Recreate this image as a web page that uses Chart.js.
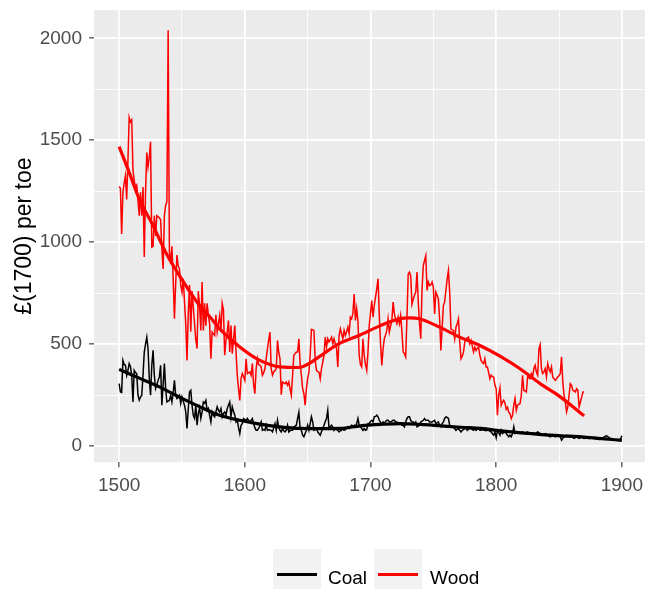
<!DOCTYPE html>
<html lang="en">
<head>
    <meta charset="UTF-8">
    <title>Coal and wood prices</title>
    <style>
        body {
            margin: 0;
            padding: 0;
            background: #fff;
            overflow: hidden;
            font-family: "Liberation Sans", Arial, sans-serif;
        }
        #wrap {
            position: relative;
            width: 647px;
            height: 592px;
        }
        #legend {
            position: absolute;
            left: 273px;
            top: 549px;
            display: flex;
            align-items: flex-start;
        }
        .key {
            width: 48px;
            height: 40px;
            background: #F2F2F2;
            position: relative;
        }
        .key span {
            position: absolute;
            left: 4px;
            width: 40px;
            top: 24px;
            height: 3px;
        }
        .label {
            font-size: 19px;
            line-height: 19px;
            color: #000;
            margin: 19px 7px 0 7px;
        }
    </style>
    <script src="https://cdn.jsdelivr.net/npm/chart.js@4"></script>
</head>
<body>
    <div id="wrap">
        <canvas id="chart" width="647" height="592"></canvas>
        <div id="legend">
            <div class="key"><span style="background:#000000"></span></div>
            <div class="label">Coal</div>
            <div class="key"><span style="background:#FF0000"></span></div>
            <div class="label" style="margin-left:8px">Wood</div>
        </div>
    </div>
    <script>
        // annual series, first year 1500
        const firstYear = 1500;

        const coalPrices = [
            306, 265, 263, 420, 400, 396, 347, 371, 404, 390,
            347, 216, 371, 360, 355, 249, 225, 240, 249, 347,
            461, 500, 534, 477, 331, 249, 396, 469, 347, 282,
            300, 322, 339, 396, 200, 300, 404, 282, 216, 220,
            224, 249, 216, 260, 322, 249, 233, 240, 249, 208,
            241, 220, 200, 167, 86, 180, 265, 273, 200, 150,
            135, 200, 102, 160, 187, 135, 167, 216, 210, 224,
            175, 184, 150, 118, 167, 150, 143, 167, 192, 175,
            167, 184, 143, 160, 167, 151, 184, 200, 216, 143,
            192, 170, 151, 118, 126, 90, 61, 102, 110, 135,
            130, 126, 135, 125, 118, 126, 135, 110, 90, 77,
            77, 86, 100, 118, 77, 80, 77, 102, 77, 80,
            77, 77, 69, 90, 110, 77, 126, 90, 77, 69,
            86, 75, 69, 77, 102, 69, 75, 77, 77, 94,
            98, 102, 135, 166, 86, 77, 53, 45, 61, 77,
            102, 77, 110, 143, 118, 77, 80, 86, 69, 61,
            53, 70, 86, 102, 120, 135, 175, 86, 95, 102,
            94, 77, 86, 80, 77, 69, 75, 77, 86, 77,
            80, 86, 94, 86, 95, 102, 94, 102, 94, 110,
            135, 102, 94, 86, 77, 86, 77, 80, 110, 110,
            120, 126, 118, 143, 145, 151, 143, 126, 115, 110,
            118, 110, 120, 126, 126, 118, 118, 122, 126, 126,
            118, 118, 115, 110, 110, 102, 102, 94, 118, 135,
            143, 143, 126, 118, 118, 110, 118, 94, 98, 102,
            118, 122, 126, 135, 126, 126, 126, 118, 118, 118,
            122, 126, 110, 114, 118, 102, 94, 110, 118, 135,
            143, 140, 135, 102, 94, 94, 90, 86, 77, 82,
            86, 77, 69, 77, 80, 86, 86, 77, 82, 86,
            86, 80, 77, 86, 77, 82, 86, 77, 77, 80,
            77, 77, 75, 77, 77, 72, 69, 60, 53, 69,
            40, 77, 65, 53, 77, 61, 65, 69, 61, 53,
            45, 53, 45, 61, 94, 61, 65, 69, 64, 61,
            66, 69, 64, 61, 65, 69, 64, 61, 63, 65,
            62, 61, 64, 69, 65, 61, 57, 53, 57, 61,
            57, 53, 49, 45, 49, 53, 49, 45, 49, 53,
            49, 45, 29, 38, 45, 49, 53, 49, 45, 45,
            45, 41, 37, 41, 45, 41, 37, 41, 45, 41,
            37, 38, 40, 38, 37, 38, 40, 38, 37, 36,
            35, 33, 32, 33, 35, 40, 45, 48, 50, 45,
            40, 38, 35, 32, 30, 31, 32, 30, 28, 35,
            50
        ];

        const woodPrices = [
            1273, 1265, 1040, 1245, 1290, 1325, 1210, 1400, 1612, 1590,
            1600, 1357, 1300, 1270, 1280, 1205, 1130, 1245, 1130, 1270,
            927, 1245, 1440, 1370, 1420, 1492, 976, 980, 1130, 1030,
            1130, 1125, 1120, 1110, 965, 868, 1130, 1180, 1198, 2040,
            952, 895, 980, 820, 624, 800, 937, 880, 870, 790,
            755, 820, 708, 600, 420, 650, 790, 561, 760, 680,
            600, 520, 478, 760, 690, 567, 804, 567, 700, 590,
            700, 640, 600, 428, 559, 550, 542, 644, 559, 600,
            640, 559, 700, 668, 445, 520, 559, 616, 461, 591,
            453, 520, 591, 461, 347, 280, 224, 330, 355, 340,
            322, 428, 355, 360, 363, 347, 404, 300, 257, 379,
            428, 400, 396, 388, 347, 360, 379, 428, 477, 520,
            559, 379, 347, 363, 370, 379, 518, 460, 428, 252,
            314, 310, 306, 314, 298, 314, 280, 249, 347, 445,
            453, 461, 461, 526, 404, 347, 281, 257, 200, 281,
            330, 363, 445, 572, 570, 567, 420, 371, 365, 363,
            330, 380, 412, 445, 534, 485, 526, 510, 520, 534,
            502, 526, 500, 477, 388, 542, 575, 550, 526, 567,
            542, 560, 583, 551, 632, 624, 650, 746, 616, 673,
            616, 445, 400, 388, 526, 445, 400, 371, 461, 591,
            650, 714, 632, 689, 730, 771, 820, 640, 500, 395,
            477, 526, 545, 567, 624, 559, 590, 616, 706, 648,
            620, 600, 632, 600, 640, 560, 461, 453, 437, 630,
            844, 853, 834, 696, 720, 740, 755, 853, 706, 600,
            526, 770, 885, 910, 934, 763, 804, 787, 790, 804,
            779, 648, 755, 740, 722, 624, 469, 580, 689, 706,
            763, 820, 861, 755, 575, 570, 567, 526, 583, 600,
            624, 510, 428, 440, 461, 510, 526, 530, 534, 502,
            518, 490, 461, 485, 469, 480, 485, 445, 420, 410,
            404, 428, 388, 388, 360, 330, 347, 340, 338, 298,
            281, 151, 250, 285, 200, 215, 224, 210, 180, 190,
            165, 159, 135, 151, 200, 233, 175, 200, 205, 208,
            249, 347, 273, 270, 265, 339, 335, 330, 355, 339,
            380, 396, 363, 347, 477, 497, 379, 355, 363, 379,
            339, 404, 380, 363, 388, 339, 330, 322, 330, 339,
            345, 355, 437, 314, 250, 216, 167, 192, 250, 306,
            298, 273, 270, 265, 281, 273, 192, 216, 240, 265,
            265
        ];

        // smoothed trend lines (loess), read at a few years
        const coalTrendYears = [1500, 1516, 1532, 1548, 1564, 1580, 1596, 1612, 1628, 1644, 1660, 1676, 1692,
            1708, 1724, 1740, 1756, 1772, 1788, 1804, 1820, 1836, 1852, 1868, 1884, 1900];
        const coalTrend = [376, 333, 290, 240, 193, 151, 126, 107, 94, 86, 85, 86, 99,
            106, 110, 106, 99, 92, 86, 74, 64, 56, 50, 45, 36, 28];

        const woodTrendYears = [1500, 1508, 1516, 1527, 1537, 1548, 1564, 1572, 1580, 1596, 1612, 1628, 1643,
            1651, 1659, 1675, 1691, 1707, 1723, 1731, 1739, 1755, 1771, 1787, 1803, 1819, 1835, 1851, 1870];
        const woodTrend = [1469, 1342, 1211, 1081, 951, 836, 689, 635, 575, 486, 420, 388, 385,
            404, 437, 502, 542, 588, 624, 629, 624, 583, 534, 493, 441, 379, 306, 241, 148];

        const xTicks = [1500, 1550, 1600, 1650, 1700, 1750, 1800, 1850, 1900];
        const yTicks = [0, 250, 500, 750, 1000, 1250, 1500, 1750, 2000];

        const coalYears = coalPrices.map((_, i) => firstYear + i);
        const woodYears = woodPrices.map((_, i) => firstYear + i);
        const toPoints = (years, values) => values.map((v, i) => ({ x: years[i], y: v }));

        const fontFamily = '"Liberation Sans", Arial, sans-serif';

        const panelBackground = {
            id: 'panelBackground',
            beforeDraw(chart) {
                const { ctx, chartArea } = chart;
                ctx.save();
                ctx.fillStyle = '#EBEBEB';
                ctx.fillRect(chartArea.left, chartArea.top, chartArea.right - chartArea.left, chartArea.bottom - chartArea.top);
                ctx.restore();
            }
        };

        function gridFor(majorStep) {
            return {
                color: '#FFFFFF',
                lineWidth: ctx => (ctx.tick && ctx.tick.value % majorStep === 0) ? 1.7 : 0.85,
                drawTicks: true,
                tickLength: 5,
                tickWidth: 1.1,
                tickColor: ctx => (ctx.tick && ctx.tick.value % majorStep === 0) ? '#333333' : 'rgba(0,0,0,0)'
            };
        }

        new Chart(document.getElementById('chart'), {
            type: 'line',
            data: {
                datasets: [
                    {
                        label: 'Coal',
                        data: toPoints(coalYears, coalPrices),
                        borderColor: '#000000',
                        borderWidth: 1.5,
                        pointRadius: 0,
                        order: 3
                    },
                    {
                        label: 'Wood',
                        data: toPoints(woodYears, woodPrices),
                        borderColor: '#FF0000',
                        borderWidth: 1.5,
                        pointRadius: 0,
                        order: 2
                    },
                    {
                        label: 'Coal trend',
                        data: toPoints(coalTrendYears, coalTrend),
                        borderColor: '#000000',
                        borderWidth: 3.2,
                        pointRadius: 0,
                        cubicInterpolationMode: 'monotone',
                        order: 1
                    },
                    {
                        label: 'Wood trend',
                        data: toPoints(woodTrendYears, woodTrend),
                        borderColor: '#FF0000',
                        borderWidth: 3.2,
                        pointRadius: 0,
                        cubicInterpolationMode: 'monotone',
                        order: 0
                    }
                ]
            },
            options: {
                responsive: false,
                animation: false,
                layout: { padding: { top: 10, right: 0, bottom: 89.7, left: 0 } },
                plugins: {
                    legend: { display: false },
                    tooltip: { enabled: false }
                },
                scales: {
                    x: {
                        type: 'linear',
                        min: 1480,
                        max: 1920,
                        afterBuildTicks: axis => { axis.ticks = xTicks.map(v => ({ value: v })); },
                        afterFit: scale => { scale.height = 40; scale.paddingLeft = 0; scale.paddingRight = 0; },
                        grid: gridFor(100),
                        border: { display: false },
                        ticks: {
                            autoSkip: false,
                            maxRotation: 0,
                            padding: 7,
                            color: '#4D4D4D',
                            font: { family: fontFamily, size: 19 },
                            callback: v => v % 100 === 0 ? String(v) : ''
                        }
                    },
                    y: {
                        type: 'linear',
                        min: -80,
                        max: 2139,
                        afterBuildTicks: axis => { axis.ticks = yTicks.map(v => ({ value: v })); },
                        afterFit: scale => { scale.width = 94; scale.paddingTop = 0; scale.paddingBottom = 0; },
                        grid: gridFor(500),
                        border: { display: false },
                        title: {
                            display: true,
                            text: '£(1700) per toe',
                            color: '#000000',
                            font: { family: fontFamily, size: 23 },
                            padding: { top: 11, bottom: 0 }
                        },
                        ticks: {
                            autoSkip: false,
                            padding: 7,
                            color: '#4D4D4D',
                            font: { family: fontFamily, size: 19 },
                            callback: v => v % 500 === 0 ? String(v) : ''
                        }
                    }
                }
            },
            plugins: [panelBackground]
        });
    </script>
</body>
</html>
